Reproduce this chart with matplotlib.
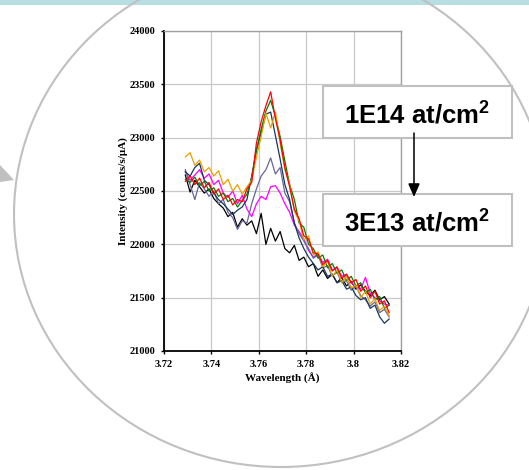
import matplotlib.pyplot as plt
import matplotlib.patches as mpatches

plt.rcParams['mathtext.fontset'] = 'custom'
plt.rcParams['mathtext.bf'] = 'Liberation Sans:bold'
plt.rcParams['mathtext.rm'] = 'Liberation Sans:bold'

# wavelength grid (Angstrom)
wavelength = [3.729, 3.731, 3.733, 3.735, 3.737, 3.739, 3.741, 3.743, 3.745, 3.747,
              3.749, 3.751, 3.753, 3.755, 3.757, 3.759, 3.761, 3.763, 3.765, 3.767,
              3.769, 3.771, 3.773, 3.775, 3.777, 3.779, 3.781, 3.783, 3.785, 3.787,
              3.789, 3.791, 3.793, 3.795, 3.797, 3.799, 3.801, 3.803, 3.805, 3.807,
              3.809, 3.811, 3.813, 3.815]

# intensities (counts/s/uA)
red = [22590, 22640, 22560, 22620, 22530, 22580, 22470, 22520, 22420, 22460,
       22370, 22420, 22400, 22520, 22580, 22950, 23150, 23300, 23430, 23180,
       22980, 22720, 22540, 22330, 22240, 22080, 22050, 21920, 21910, 21810,
       21850, 21750, 21790, 21680, 21720, 21640, 21670, 21560, 21610, 21500,
       21560, 21440, 21470, 21360]
green = [22610, 22580, 22630, 22550, 22590, 22500, 22530, 22450, 22480, 22400,
         22430, 22350, 22410, 22470, 22620, 22880, 23080, 23250, 23350, 23200,
         23010, 22780, 22560, 22420, 22200, 22160, 22000, 21960, 21870, 21900,
         21780, 21820, 21730, 21760, 21660, 21700, 21610, 21640, 21540, 21580,
         21480, 21510, 21400, 21430]
orange = [22820, 22860, 22740, 22790, 22680, 22720, 22640, 22690, 22560, 22610,
          22500, 22560, 22470, 22540, 22600, 22820, 23010, 23230, 23090, 23240,
          22950, 22700, 22560, 22310, 22220, 22040, 22080, 21900, 21930, 21790,
          21840, 21700, 21760, 21640, 21700, 21590, 21620, 21500, 21560, 21440,
          21490, 21380, 21420, 21330]
navy = [22680, 22640, 22720, 22760, 22600, 22560, 22480, 22420, 22380, 22330,
        22280, 22320, 22350, 22420, 22640, 22880, 23050, 23220, 23240, 23020,
        22800, 22560, 22420, 22200, 22060, 21960, 21880, 21820, 21760, 21790,
        21700, 21720, 21640, 21660, 21580, 21600, 21520, 21480, 21500, 21400,
        21430, 21320, 21260, 21300]
slate = [22700, 22560, 22420, 22580, 22520, 22450, 22500, 22380, 22420, 22300,
         22250, 22140, 22220, 22200, 22380, 22520, 22640, 22700, 22810, 22660,
         22720, 22480, 22400, 22200, 22100, 22030, 21960, 21870, 21900, 21780,
         21800, 21700, 21740, 21640, 21660, 21570, 21610, 21520, 21480, 21420,
         21460, 21360, 21390, 21320]
magenta = [22680, 22600, 22650, 22700, 22620, 22660, 22560, 22600, 22480, 22440,
           22500, 22380, 22460, 22330, 22260, 22380, 22450, 22420, 22540, 22550,
           22480, 22380, 22300, 22180, 22120, 22050, 21940, 21880, 21910, 21830,
           21860, 21760, 21780, 21700, 21720, 21640, 21600, 21580, 21690, 21540,
           21500, 21470, 21440, 21430]
black = [22650, 22490, 22600, 22540, 22480, 22520, 22430, 22380, 22340, 22260,
         22300, 22160, 22240, 22180, 22220, 22100, 22290, 22000, 22150, 22030,
         22120, 21960, 21920, 21990, 21850, 21880, 21790, 21820, 21700, 21760,
         21680, 21720, 21640, 21690, 21610, 21650, 21580, 21620, 21560, 21520,
         21570, 21480, 21510, 21440]

xticks = [3.72, 3.74, 3.76, 3.78, 3.80, 3.82]
xtick_labels = ['3.72', '3.74', '3.76', '3.78', '3.8', '3.82']
yticks = [21000, 21500, 22000, 22500, 23000, 23500, 24000]
dose_labels = [r'1E14 at/cm$^{\mathbf{2}}$', r'3E13 at/cm$^{\mathbf{2}}$']

W, H = 529, 470
fig = plt.figure(figsize=(W / 100, H / 100), dpi=100)

# background layer in pixel coordinates (circle, top band, arrow tip)
bg = fig.add_axes([0, 0, 1, 1], zorder=0)
bg.set_xlim(0, W)
bg.set_ylim(H, 0)
bg.axis('off')
bg.add_patch(mpatches.Rectangle((0, 0), W, 5, color='#b7dee2', lw=0))
bg.add_patch(mpatches.Ellipse((281, 214), 2 * 267, 2 * 253, fill=False,
                              ec='#c0c0c0', lw=1.5))
bg.add_patch(mpatches.Polygon([(0, 165), (14, 180), (0, 182)], closed=True,
                              color='#c0c0c0', lw=0))

# the chart
ax = fig.add_axes([164 / W, 1 - 351 / H, (401 - 164) / W, (351 - 31) / H], zorder=1)
series = [(black, 'black'), (magenta, '#ff00ff'), (slate, '#666699'),
          (navy, '#17375e'), (green, '#008000'), (orange, '#e8a000'), (red, '#ff0000')]
for vals, col in series:
    ax.plot(wavelength, vals, color=col, lw=0.9)

ax.set_xlim(3.72, 3.82)
ax.set_ylim(21000, 24000)
ax.set_xticks(xticks)
ax.set_xticklabels(xtick_labels)
ax.set_yticks(yticks)
ax.grid(True, color='#c8c8c8', lw=0.9)
ax.set_axisbelow(True)
for s in ['top', 'right']:
    ax.spines[s].set_color('#a0a0a0')
    ax.spines[s].set_linewidth(1.0)
for s in ['left', 'bottom']:
    ax.spines[s].set_color('black')
    ax.spines[s].set_linewidth(1.3)
ax.tick_params(direction='out', length=2.5, width=1, labelsize=7.5, colors='black')
ax.tick_params(axis='y', pad=4)
ax.tick_params(axis='x', pad=4)
for lab in ax.get_xticklabels() + ax.get_yticklabels():
    lab.set_family('Liberation Serif')
    lab.set_fontweight('bold')
ax.set_xlabel('Wavelength (\u00c5)', family='Liberation Serif', fontweight='bold',
              fontsize=8, labelpad=3)
ax.set_ylabel('Intensity (counts/s/\u03bcA)', family='Liberation Serif',
              fontweight='bold', fontsize=8, labelpad=1)

# overlay: dose boxes and arrow
ov = fig.add_axes([0, 0, 1, 1], zorder=2)
ov.set_xlim(0, W)
ov.set_ylim(H, 0)
ov.axis('off')
ov.patch.set_alpha(0)
for (y0, y1), txt in zip([(86, 138), (194, 246)], dose_labels):
    ov.add_patch(mpatches.Rectangle((323, y0), 189, y1 - y0, fc='white',
                                    ec='#c0c0c0', lw=1.5))
    ov.text(417, (y0 + y1) / 2 + 2, txt, ha='center', va='center',
            family='Liberation Sans', fontweight='bold', fontsize=18.5)
ov.annotate('', xy=(414, 197), xytext=(414, 133),
            arrowprops=dict(arrowstyle='-|>,head_length=0.8,head_width=0.35',
                            color='black', lw=1.1, shrinkA=0, shrinkB=0))

fig.savefig('out.png', dpi=100)
